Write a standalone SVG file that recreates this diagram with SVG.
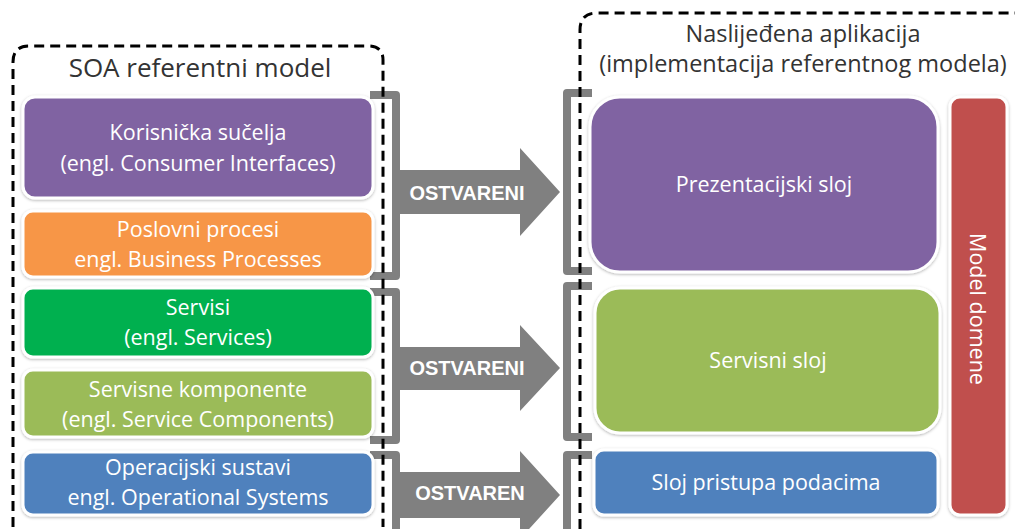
<svg xmlns="http://www.w3.org/2000/svg" width="1015" height="529" viewBox="0 0 1015 529">
<defs>
<filter id="sh" x="-10%" y="-10%" width="120%" height="130%">
<feDropShadow dx="0" dy="1" stdDeviation="1.5" flood-color="#000" flood-opacity="0.3"/>
</filter>
</defs>
<style>
.box{stroke:#fff;stroke-width:3;filter:url(#sh)}
.t{font-family:"Open Sans","Noto Sans",sans-serif;fill:#fff;font-size:21.5px;text-anchor:middle}
.h{font-family:"Open Sans","Noto Sans",sans-serif;fill:#333;font-size:23.5px;text-anchor:middle}
.br{fill:none;stroke:#808080;stroke-width:8;stroke-linejoin:round}
.ar{fill:#808080}
.at{font-family:"Liberation Sans",Arial,sans-serif;font-weight:bold;font-size:20px;fill:#fff;text-anchor:middle}
.dash{fill:none;stroke:#000;stroke-width:3;stroke-dasharray:10 6}
</style>
<rect width="1015" height="529" fill="#fff"/>
<g id="connectors">
<path class="br" d="M370,95 H396 V276 H370"/>
<path class="br" d="M370,292 H396 V440 H370"/>
<path class="br" d="M370,455 H396 V545"/>
<path class="br" d="M592,93 H567 V271 H592"/>
<path class="br" d="M592,286 H567 V437 H592"/>
<path class="br" d="M592,455 H567 V545"/>
<polygon class="ar" points="396,170 520,170 520,148 560,192 520,236 520,214 396,214"/>
<polygon class="ar" points="396,347 520,347 520,325 560,368 520,411 520,390 396,390"/>
<polygon class="ar" points="396,472 520,472 520,451 560,495 520,539 520,518 396,518"/>
<text class="at" x="467" y="200">OSTVARENI</text>
<text class="at" x="467" y="375">OSTVARENI</text>
<text class="at" x="470" y="500">OSTVAREN</text>
</g>
<g id="soa-frame">
<path class="dash" d="M13,527 V62 Q13,46 29,46 H368 Q383,46 383,60 V527"/>
<text class="h" x="200" y="77" style="font-size:26px">SOA referentni model</text>
</g>
<g id="app-frame">
<path class="dash" d="M580,529 V30 Q580,13 597,13 H1015"/>
<text class="h" x="803" y="42">Naslijeđena aplikacija</text>
<text class="h" x="803" y="72">(implementacija referentnog modela)</text>
</g>
<g id="consumer-interfaces">
<rect class="box" x="23" y="97" width="350" height="101" rx="12" fill="#8064A2"/>
<text class="t" x="198" y="140">Korisnička sučelja</text>
<text class="t" x="198" y="171">(engl. Consumer Interfaces)</text>
</g>
<g id="business-processes">
<rect class="box" x="23" y="211" width="350" height="66" rx="10" fill="#F79646"/>
<text class="t" x="198" y="237">Poslovni procesi</text>
<text class="t" x="198" y="267">engl. Business Processes</text>
</g>
<g id="services">
<rect class="box" x="23" y="288" width="350" height="69" rx="10" fill="#00B050"/>
<text class="t" x="198" y="315">Servisi</text>
<text class="t" x="198" y="345">(engl. Services)</text>
</g>
<g id="service-components">
<rect class="box" x="23" y="370" width="350" height="67" rx="10" fill="#9BBB59"/>
<text class="t" x="198" y="397">Servisne komponente</text>
<text class="t" x="198" y="427">(engl. Service Components)</text>
</g>
<g id="operational-systems">
<rect class="box" x="23" y="452" width="350" height="63" rx="10" fill="#4F81BD"/>
<text class="t" x="198" y="475">Operacijski sustavi</text>
<text class="t" x="198" y="505">engl. Operational Systems</text>
</g>
<g id="presentation-layer">
<rect class="box" x="590" y="97" width="348" height="175" rx="30" fill="#8064A2"/>
<text class="t" x="764" y="192">Prezentacijski sloj</text>
</g>
<g id="service-layer">
<rect class="box" x="595" y="288" width="345" height="145" rx="25" fill="#9BBB59"/>
<text class="t" x="768" y="368">Servisni sloj</text>
</g>
<g id="data-access-layer">
<rect class="box" x="594" y="450" width="344" height="65" rx="10" fill="#4F81BD"/>
<text class="t" x="766" y="490">Sloj pristupa podacima</text>
</g>
<g id="domain-model">
<rect class="box" x="950" y="97" width="57" height="418" rx="10" fill="#C0504D"/>
<text class="t" transform="translate(978,309) rotate(90)" x="0" y="8">Model domene</text>
</g>
</svg>
